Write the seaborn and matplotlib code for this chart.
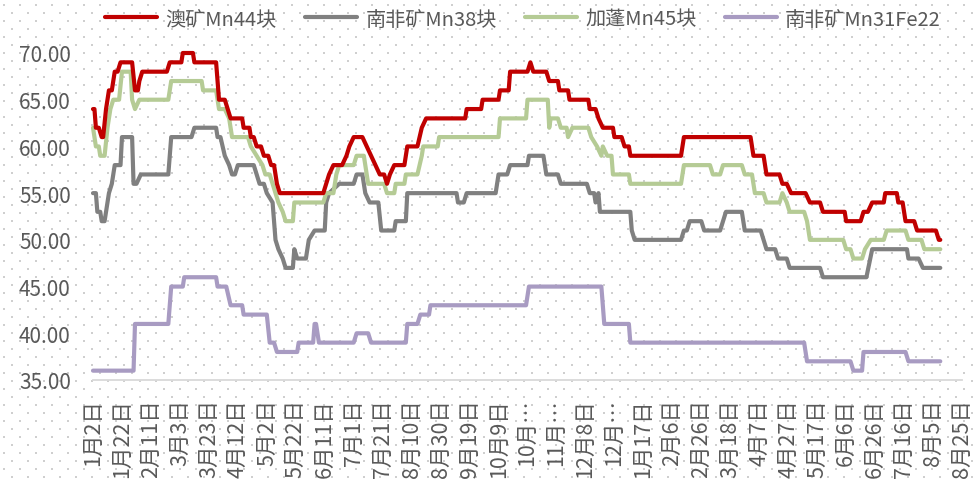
import numpy as np
import pandas as pd
import matplotlib
matplotlib.use("Agg")
import matplotlib.pyplot as plt
import seaborn as sns

# ---- data: day offsets from the first date and prices (vertices of each line) ----
start = pd.Timestamp("2022-01-02")

mn44_day = [0, 1, 2, 4, 6, 7, 9, 11, 13, 15, 17, 19, 27, 29, 31, 32, 34, 51, 53, 61, 62, 69, 70, 85, 87, 91,
            93, 95, 103, 104, 108, 109, 111, 113, 116, 118, 121, 123, 125, 126, 127, 129, 159, 161, 163, 166,
            172, 175, 177, 180, 186, 189, 192, 195, 198, 201, 203, 205, 208, 215, 217, 224, 227, 230, 257,
            258, 268, 269, 280, 281, 287, 288, 300, 302, 304, 313, 315, 321, 322, 328, 329, 342, 343, 347,
            349, 352, 359, 360, 365, 367, 370, 371, 406, 408, 454, 456, 463, 465, 474, 476, 479, 482, 492,
            495, 502, 504, 519, 520, 530, 532, 535, 538, 546, 547, 555, 556, 559, 561, 567, 569, 582, 584, 585]
mn44_val = [64, 64, 62, 62, 61, 61, 64, 66, 66, 68, 68, 69, 69, 66, 66, 67, 68, 68, 69, 69, 70, 70, 69, 69, 65, 65,
            64, 63, 63, 62, 62, 61, 61, 60, 60, 59, 59, 58, 58, 57, 56, 55, 55, 56, 57, 58,
            58, 59, 60, 61, 61, 60, 59, 58, 57, 57, 56, 57, 58, 58, 60, 60, 62, 63, 63,
            64, 64, 65, 65, 66, 66, 68, 68, 69, 68, 68, 67, 67, 66, 66, 65, 65, 64, 64,
            63, 62, 62, 61, 61, 60, 60, 59, 59, 61, 61, 59, 59, 57, 57, 56, 56, 55, 55,
            54, 54, 53, 53, 52, 52, 53, 53, 54, 54, 55, 55, 54, 54, 52, 52, 51, 51, 50, 50]

mn38_day = [0, 2, 3, 5, 6, 8, 11, 13, 15, 19, 20, 27, 28, 30, 33, 52, 54, 68, 70, 85, 86, 88, 91, 94, 96, 98,
            100, 111, 113, 115, 118, 120, 124, 126, 128, 131, 133, 138, 139, 141, 147, 149, 153, 160, 161,
            163, 170, 180, 182, 186, 188, 191, 197, 199, 208, 209, 216, 217, 251, 252, 256, 258, 278, 280,
            286, 288, 300, 301, 311, 313, 321, 323, 341, 343, 346, 347, 349, 350, 371, 372, 374, 406, 408,
            410, 412, 420, 422, 433, 435, 437, 448, 450, 461, 463, 465, 471, 473, 479, 481, 502, 504, 534,
            538, 562, 563, 570, 573, 585]
mn38_val = [55, 55, 53, 53, 52, 52, 55, 56, 58, 58, 61, 61, 56, 56, 57, 57, 61, 61, 62, 62, 61, 61, 59, 58, 57, 57,
            58, 58, 57, 56, 56, 55, 54, 50, 49, 48, 47, 47, 49, 48, 48, 50, 51, 51, 54,
            55, 56, 56, 57, 57, 55, 54, 54, 51, 51, 52, 52, 55, 55, 54, 54, 55, 55, 57,
            57, 58, 58, 59, 59, 57, 57, 56, 56, 55, 55, 54, 55, 53, 53, 51, 50, 50, 51,
            51, 52, 52, 51, 51, 52, 53, 53, 51, 51, 50, 49, 49, 48, 48, 47, 47, 46, 46,
            49, 49, 48, 48, 47, 47]

mn45_day = [0, 2, 4, 5, 8, 10, 12, 14, 18, 20, 26, 27, 29, 32, 52, 54, 75, 76, 85, 87, 91, 94, 96, 107, 109,
            113, 117, 119, 122, 124, 126, 128, 131, 133, 138, 139, 159, 161, 166, 168, 170, 180, 182, 187,
            190, 201, 203, 208, 209, 215, 216, 224, 227, 228, 238, 239, 280, 281, 299, 300, 314, 315, 316,
            321, 323, 327, 328, 331, 342, 344, 348, 351, 352, 355, 358, 359, 370, 371, 406, 408, 426, 428,
            433, 435, 448, 450, 455, 457, 463, 465, 474, 476, 479, 481, 491, 493, 495, 518, 520, 523, 525,
            531, 533, 537, 546, 548, 561, 563, 572, 574, 585]
mn45_val = [62, 60, 60, 59, 59, 62, 64, 65, 65, 68, 68, 65, 64, 65, 65, 67, 67, 66, 66, 64, 64, 63, 61, 61, 60,
            59, 58, 57, 57, 56, 55, 54, 53, 52, 52, 54, 54, 55, 55, 57, 58, 58, 59, 59,
            56, 56, 55, 55, 56, 56, 57, 57, 59, 60, 60, 61, 61, 63, 63, 65, 65, 62, 63,
            63, 62, 62, 61, 62, 62, 61, 60, 59, 60, 59, 59, 57, 57, 56, 56, 58, 58, 57,
            57, 58, 58, 57, 57, 55, 55, 54, 54, 55, 54, 53, 53, 52, 50, 50, 49, 49, 48,
            48, 49, 50, 50, 51, 51, 50, 50, 49, 49]

mn31_day = [0, 28, 29, 52, 54, 62, 63, 85, 86, 92, 95, 103, 104, 120, 122, 125, 127, 141, 142, 152, 153, 154,
            156, 180, 182, 190, 192, 216, 217, 224, 226, 232, 233, 299, 301, 351, 353, 370, 371, 491, 493,
            523, 525, 531, 532, 561, 563, 585]
mn31_val = [36, 36, 41, 41, 45, 45, 46, 46, 45, 45, 43, 43, 42, 42, 39, 39, 38, 38, 39, 39, 41, 41,
            39, 39, 40, 40, 39, 39, 41, 41, 42, 42, 43, 43, 45, 45, 41, 41, 39, 39, 37,
            37, 36, 36, 38, 38, 37, 37]

series_names = ["澳矿Mn44块", "南非矿Mn38块", "加蓬Mn45块", "南非矿Mn31Fe22"]
series_colors = ["#C00000", "#808080", "#B5CB95", "#A89BC2"]

tick_days = list(range(0, 601, 20))
tick_labels = ["1月2日", "1月22日", "2月11日", "3月3日", "3月23日", "4月12日", "5月2日", "5月22日",
               "6月11日", "7月1日", "7月21日", "8月10日", "8月30日", "9月19日", "10月9日", "10月…",
               "11月…", "12月8日", "12月…", "1月17日", "2月6日", "2月26日", "3月18日", "4月7日",
               "4月27日", "5月17日", "6月6日", "6月26日", "7月16日", "8月5日", "8月25日"]
y_ticks = [35, 40, 45, 50, 55, 60, 65, 70]

# ---- style ----
sns.set_theme(style="white")
plt.rcParams["font.family"] = ["Noto Sans CJK SC", "DejaVu Sans"]
text_color = "#595959"

W, H = 977, 481
fig = plt.figure(figsize=(W / 100, H / 100), dpi=100)

# dotted backdrop across the whole canvas
bg = fig.add_axes([0, 0, 1, 1], zorder=-5)
bg.set_xlim(0, W)
bg.set_ylim(H, 0)
bg.set_axis_off()
gx, gy = np.meshgrid(np.arange(4, W, 16), np.arange(6, H, 16))
bg.scatter(gx.ravel(), gy.ravel(), s=1.3, marker="s", color="#CFCFCF", linewidths=0)
bg.scatter(gx.ravel() + 8, gy.ravel() + 8, s=1.3, marker="s", color="#CFCFCF", linewidths=0)

ax = fig.add_axes([93 / W, (H - 381) / H, 869 / W, 327 / H])
ax.patch.set_alpha(0)

all_series = [(mn44_day, mn44_val), (mn38_day, mn38_val), (mn45_day, mn45_val), (mn31_day, mn31_val)]
order = [3, 1, 2, 0]  # draw red on top
for i in order:
    days, vals = all_series[i]
    df = pd.DataFrame({"date": start + pd.to_timedelta(days, unit="D"), "price": vals})
    sns.lineplot(data=df, x="date", y="price", estimator=None, sort=False, ax=ax,
                 color=series_colors[i], linewidth=3.0, label=series_names[i], clip_on=False)

ax.set_xlim(start, start + pd.Timedelta(days=600))
ax.set_ylim(35, 70)
ax.set_xticks(start + pd.to_timedelta(tick_days, unit="D"))
ax.set_xticklabels(tick_labels, rotation=90, va="top", ha="center")
ax.set_yticks(y_ticks)
ax.set_yticklabels([f"{v:.2f}" for v in y_ticks])
ax.set_xlabel("")
ax.set_ylabel("")
ax.tick_params(axis="x", length=0, pad=13, labelsize=15.5, labelcolor=text_color)
ax.tick_params(axis="y", length=0, pad=16, labelsize=15, labelcolor=text_color)
for side in ["left", "right", "top"]:
    ax.spines[side].set_visible(False)
ax.spines["bottom"].set_color("#D9D9D9")
ax.spines["bottom"].set_linewidth(1.3)
ax.grid(False)

handles, labels = ax.get_legend_handles_labels()
lookup = dict(zip(labels, handles))
ax.get_legend().remove()
fig.legend([lookup[n] for n in series_names], series_names, loc="center",
           bbox_to_anchor=(523 / W, 1 - 20 / H), ncol=4, frameon=False,
           handlelength=2.6, handletextpad=0.4, columnspacing=1.4,
           fontsize=14.5, labelcolor=text_color)

fig.savefig("out.png", dpi=100)
